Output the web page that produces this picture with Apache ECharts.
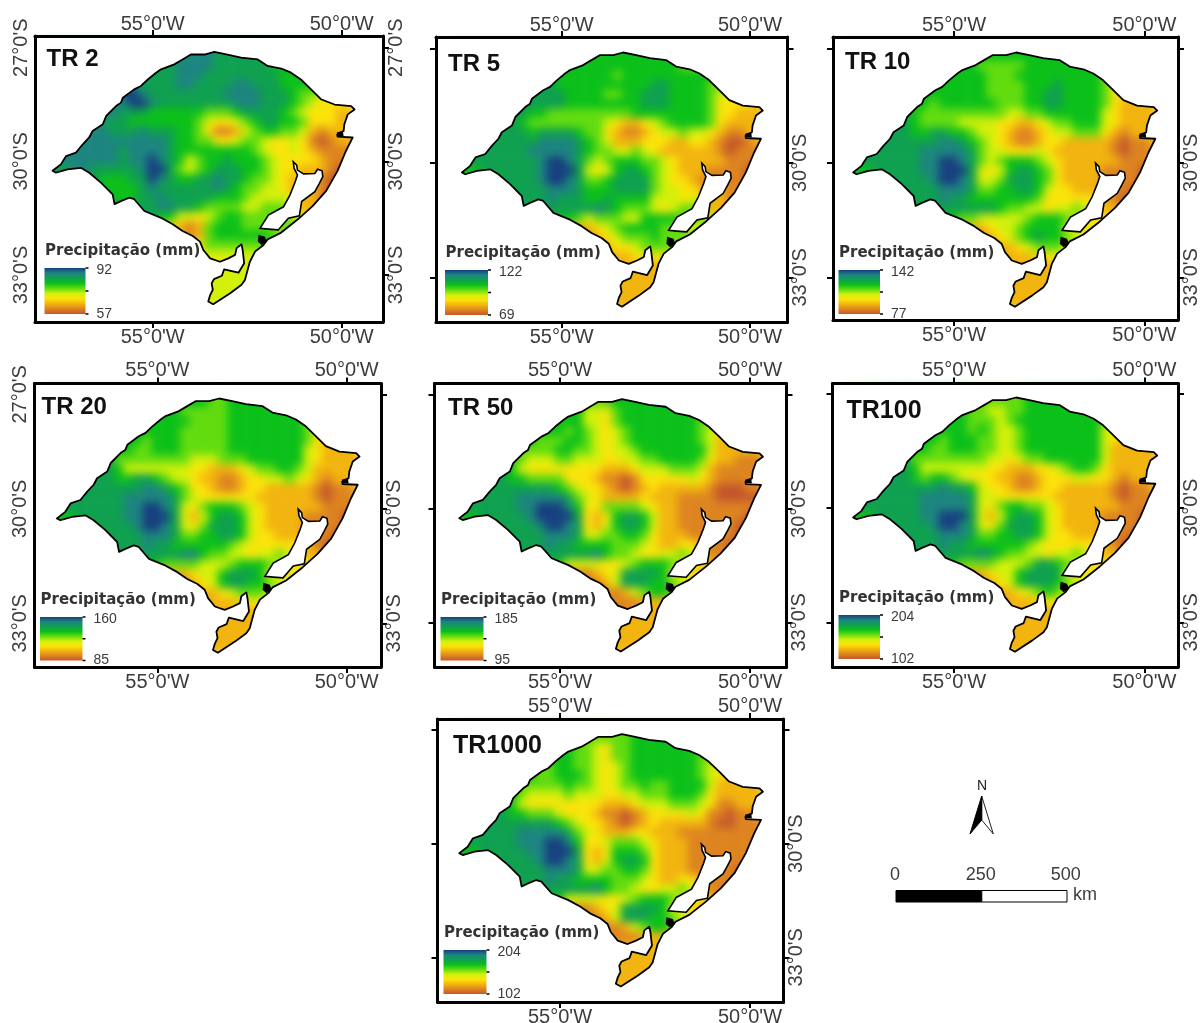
<!DOCTYPE html>
<html><head><meta charset="utf-8">
<script src="https://cdn.jsdelivr.net/npm/echarts@6/dist/echarts.min.js"></script>
<style>html,body{margin:0;padding:0;background:#fff}
#heat,#c{position:absolute;left:0;top:0;width:1200px;height:1023px}
#heat{filter:blur(4px)}</style>
</head><body><div id="heat"></div><div id="c"></div>
<script>
// ---- data ----
const panelNames = ['TR 2','TR 5','TR 10','TR 20','TR 50','TR100','TR1000'];
const legendMax = [92,122,142,160,185,204,204];
const legendMin = [57,69,77,85,95,102,102];
const lonTicks = [-55,-50];
const latTicks = [-27,-30,-33];
const legendTitle = 'Precipitação (mm)';
const scaleStops = [0,250,500];
const cellSize = 0.25, gridWest = -57.65, gridNorth = -27.08;
// precipitation classes 0 (low, brown) .. 9 (high, navy), rows north to south, columns west to east
const tail2 = '2222 2222 2222 2222 2222 2222 2222 2222';
const tr2Rows = [
'7777 7777 7777 7788 8777 7766 6666 6666','7777 7777 7777 7888 8777 7776 6666 6666','7777 7777 7777 7888 7777 7777 6666 6666',
'7777 7777 8777 7887 7778 8777 6666 5555','7777 7889 9877 7777 7788 8877 7655 4333','7777 7888 9987 7777 7778 8877 7654 3333',
'7777 7887 7766 6666 5556 7777 6543 3322','7788 8777 6666 6665 4334 5677 6653 3322','7788 8877 7877 7665 3112 4566 5542 1222',
'8888 8888 8888 7665 5334 5543 3431 0122','8888 8887 8888 7666 6666 6543 3432 1111','8888 8887 8898 7645 6676 6654 3333 2111',
'7788 7777 7899 7545 6777 6654 3322 2100','7777 7666 7798 7667 7877 6554 3222 1000','7777 7666 6787 7777 7876 5544 3222 1000',
'7777 7766 6778 7777 7666 5444 4322 1000','7777 7777 7778 8776 5555 4455 5322 1100','7777 7777 7776 6443 4566 5555 5432 2222',
'7777 7777 7765 3212 5666 5555 5544 4444','7777 7777 7655 3212 5666 6665 4444 4444','7777 7777 7655 3323 5555 5555 4444 4444',
'5555 5555 5555 4333 4444 4444 4444 4444','4444 4444 4444 4433 3334 4444 4444 4444','4444 4444 4444 4444 4444 4444 4444 4444',
'4444 4444 4444 4444 4444 4444 4444 4444','4444 4444 4444 4444 4444 4444 4444 4444','4444 4444 4444 4444 4444 4444 4444 4444'];
const tr5Rows = [
'6666 6666 6666 6666 6666 6666 6666 6666','7777 7777 7776 6666 6666 6665 5555 5555','7777 7777 7766 6666 5666 6666 6666 6666',
'7777 7777 7766 6666 6666 7766 6655 4444','7777 7777 7776 6665 5667 7766 6654 3333','7777 7777 7776 6666 6667 7766 6653 3332',
'7777 7776 6555 5555 5566 6666 6653 3222','7777 7765 5555 5554 3223 4566 6653 2222','7777 7776 7777 6553 2112 3445 4432 1122',
'7777 7777 8888 7654 2223 3322 3321 0012','7777 7778 8888 7655 4454 3222 2221 0111','7777 7777 8998 7545 6665 5432 2222 1110',
'6677 7777 8999 7434 6776 5432 2211 1100','6666 7777 8998 7556 7777 5433 2111 1100','7777 7777 7888 7666 7777 5443 3222 1100',
'7777 7777 7877 7667 6666 4443 4322 1100','7777 7777 7777 7787 6555 4345 5522 2211','7777 7777 7766 5455 5446 6665 5543 3333',
'7777 7777 7654 2234 5666 6555 4444 4444','5555 5555 5544 2123 4555 6555 4444 4444','3333 3333 3332 2222 3345 5554 4444 4444',
'2222 2222 2222 2222 2233 3333 3333 3333','2222 2222 2222 2222 2222 2223 3333 3333',tail2,tail2,tail2,tail2];
const tr10Rows = [
'6666 6666 6666 6666 6666 6666 6666 6666','6666 6666 6666 6555 5566 6666 6666 6666','6666 6666 6666 6655 5666 6666 6655 5555',
'6666 6666 6666 6655 5566 6766 6654 3333','7777 7766 6666 6655 5566 7766 6653 3222','7777 7766 5666 6665 5566 7766 6653 2222',
'7777 7665 5555 5555 4455 6666 6643 2222','7777 7765 5554 4443 3223 4556 6643 2222','7777 7766 7766 5443 2112 3445 5532 1222',
'7777 7777 7887 6543 2112 3322 2221 0112','7777 7778 8888 7544 3334 3222 2221 0111','7777 7778 8998 7545 6665 4322 2222 1111',
'6677 7778 8999 7434 6776 5322 2211 1100','6666 7777 8998 7445 7776 5322 2211 1100','7777 7777 7888 7556 6776 4332 2211 1000',
'7777 7777 7877 6666 6665 3333 3321 0000','7777 7777 7777 7776 5544 3445 4322 1100','7777 7777 7665 5444 4456 6654 4333 3222',
'7777 7776 5432 2234 4566 6644 3333 3333','5555 5544 3322 1123 4567 6654 3333 3333','2222 2222 2222 2222 2345 5543 3333 3333',
'2222 2222 2222 2222 2223 3332 2222 2222',tail2,tail2,tail2,tail2,tail2];
const tr20Rows = [
'6666 6666 6666 6666 5566 6666 6666 6666','6666 6666 6666 6555 5566 6666 6666 6666','6666 6666 6666 6655 5566 6666 6655 5555',
'6666 6666 6666 6555 5566 6666 6653 3322','6666 6666 6566 6555 5566 6666 6653 2222','7777 7766 5566 6555 5566 6666 6643 2222',
'7777 7755 5555 5544 4555 6666 6643 2222','7777 7764 4444 4433 2223 4556 6542 2222','7777 7766 7765 4432 2112 3344 5432 1222',
'7777 7777 7887 6533 2112 3322 2221 0112','7777 7778 8888 7543 3333 3222 2221 0111','7777 7778 8998 7435 6665 4322 2222 1111',
'6677 7778 8999 7424 6776 4322 2211 1100','6666 7777 8998 7435 7776 4322 2211 1100','7777 7777 7888 7556 6776 4332 2211 1000',
'7777 7777 7877 6666 6654 3333 3321 0000','7777 7777 7777 7886 5544 3445 4322 1100','7777 7777 7665 5554 4456 6654 4333 3222',
'7777 7775 4322 2234 4677 7644 3333 3333','5555 5544 3222 1123 4677 6654 3333 3333','2222 2222 2222 1122 2345 5543 3333 3333',
'2222 2222 2222 1111 2223 3332 2222 2222',tail2,tail2,tail2,tail2,tail2];
const tr50Rows = [
'6666 6666 6666 6555 6666 6666 6666 6666','6666 6666 6666 6443 5666 6666 6666 6666','5566 6666 6666 6443 5666 6666 6555 5555',
'6666 6666 6665 6543 4566 6666 6543 2222','6666 6666 5556 6543 4566 6666 6542 2222','6666 6655 5566 5543 4456 6666 6642 2222',
'7777 7654 4455 4443 3445 5666 6532 2111','7777 7643 3333 3332 2234 4455 5421 1111','7777 7665 5553 3321 1013 3333 4321 1111',
'7777 7777 7765 4332 1012 3222 2210 0011','7777 7788 8887 5432 2223 2221 1110 0000','7777 7788 9998 6335 5554 3221 1111 1111',
'6677 7778 9999 7323 6776 4221 1111 1100','6666 7777 8998 7324 6776 4221 1111 1000','7777 7777 7888 7445 5665 3222 1111 1000',
'7777 7777 7877 6666 5554 3223 3211 0000','7777 7777 7777 7786 5543 3445 4311 1000','7777 7777 7664 4443 3456 6653 3322 2111',
'7777 7775 3221 1123 4777 7644 3222 2222','5555 5543 2111 1112 4777 6654 3222 2222','1111 1111 1111 1111 1245 6653 2222 2222',
'1111 1111 1111 1111 1112 2222 2222 2222','1111 1111 1111 1111 1122 2222 2222 2222',tail2,tail2,tail2,tail2];
const tr100Rows = [
'5566 6666 6666 5555 5566 6666 6666 6666','5566 6666 6666 5544 5566 6666 6666 6666','6666 6666 6666 5554 5666 6666 6655 5555',
'6666 6666 6666 5654 4566 6666 6643 3322','6666 6666 6566 6554 4566 6666 6643 2222','6666 6666 5566 6554 4566 6666 6642 2222',
'7777 7755 5555 5544 3455 6666 6642 2222','7777 7764 4444 4433 2223 3456 6532 2222','7777 7765 6654 3332 2112 3334 4332 1222',
'7777 7777 7877 6433 2112 3322 2221 0112','7777 7778 8888 7443 3333 3222 2221 0111','7777 7778 8888 7435 6655 4322 2222 1111',
'6677 7778 8999 7424 6776 4322 2211 1100','6666 7777 8998 7435 7776 4322 2211 1100','7777 7777 7888 7556 6776 4332 2211 1000',
'7777 7777 7877 6666 6654 3333 3321 0000','7777 7777 7777 7876 5544 3445 4322 1100','7777 7777 7665 5554 4457 7654 4333 3222',
'7777 7775 4322 2234 4677 7744 3333 3333','5555 5544 3222 1123 4677 7654 3333 3333','2222 2222 2222 1122 2345 6543 3333 3333',
'2222 2222 2222 1111 2223 3332 2222 2222',tail2,tail2,tail2,tail2,tail2];
const tr1000Rows = [
'5566 6666 6666 5555 5566 6666 6666 6666','6666 6666 6666 5543 5566 6666 6666 6666','6666 6666 6666 5543 5566 6666 6555 5555',
'6666 6666 5566 5543 4566 6666 6543 2222','6666 6666 5566 6543 4566 6666 6543 2222','6666 6655 5556 5543 4556 5566 6642 2222',
'7777 7654 4445 4443 3445 5566 6532 2222','7777 7643 3333 3332 2234 4455 5431 1222','7777 7665 5543 3321 1012 3333 4311 0112',
'7777 7777 7765 4332 1012 3222 2210 0111','7777 7788 8887 5432 2233 2221 1111 1111','7777 7788 8998 6334 5554 3222 1111 1111',
'6677 7778 8999 7323 6665 3222 1111 1111','6666 7777 8998 7324 6776 3222 1111 1111','7777 7777 7888 7445 5665 3222 1111 1000',
'7777 7777 7877 6666 5554 3223 3211 1000','7777 7777 7777 7786 5543 3445 4311 1000','7777 7777 7664 4443 3456 6653 3322 2111',
'7777 7775 3221 1123 4777 7644 3222 2222','5555 5543 2111 1112 4777 6654 3222 2222','1111 1111 1111 1111 1245 6653 2222 2222',
'1111 1111 1111 1111 1112 2222 2222 2222',tail2,tail2,tail2,tail2,tail2];
const panelRows = [tr2Rows,tr5Rows,tr10Rows,tr20Rows,tr50Rows,tr100Rows,tr1000Rows];
// state outline
const outlineLon = [-57.65,-57.43,-57.29,-57.03,-56.85,-56.68,-56.59,-56.32,-56.23,-55.97,-55.84,-55.79,-55.49,-55.31,-55.13,-54.91,-54.78,-54.43,-54.21,-53.99,-53.63,-53.37,-53.02,-52.66,-52.22,-51.96,-51.60,-51.34,-51.08,-50.81,-50.55,-50.19,-49.75,-49.66,-49.84,-49.93,-49.95,-50.12,-50.11,-49.71,-49.89,-50.11,-50.41,-50.77,-51.16,-51.60,-51.96,-52.07,-52.29,-52.43,-52.56,-52.65,-52.95,-53.40,-53.53,-53.48,-53.41,-53.44,-53.38,-53.17,-53.11,-52.73,-52.58,-52.62,-52.65,-52.78,-52.82,-53.00,-53.22,-53.48,-53.66,-53.75,-53.94,-54.21,-54.47,-54.78,-55.22,-55.49,-55.62,-55.84,-56.01,-56.06,-56.37,-56.68,-56.90,-57.25,-57.56];
const outlineLat = [-30.25,-30.08,-29.86,-29.77,-29.55,-29.37,-29.20,-29.02,-28.80,-28.54,-28.45,-28.32,-28.10,-28.01,-27.84,-27.66,-27.57,-27.44,-27.31,-27.18,-27.18,-27.11,-27.18,-27.26,-27.31,-27.48,-27.55,-27.66,-27.84,-28.10,-28.36,-28.50,-28.54,-28.63,-28.76,-29.02,-29.20,-29.29,-29.35,-29.37,-29.73,-30.25,-30.78,-31.18,-31.53,-31.88,-32.06,-32.21,-32.38,-32.65,-33.13,-33.26,-33.48,-33.77,-33.70,-33.53,-33.39,-33.22,-33.11,-33.02,-32.85,-32.94,-32.69,-32.34,-32.19,-32.29,-32.47,-32.56,-32.65,-32.56,-32.34,-32.12,-31.97,-31.84,-31.66,-31.49,-31.31,-31.00,-30.96,-31.05,-31.13,-30.87,-30.56,-30.30,-30.17,-30.21,-30.30];
// Lagoa dos Patos
const lagoonLon = [-51.28,-51.19,-51.17,-51.01,-50.71,-50.64,-50.52,-50.50,-50.59,-50.71,-51.06,-51.12,-51.41,-51.68,-51.94,-52.16,-51.94,-51.54,-51.37,-51.23,-51.17,-51.26];
const lagoonLat = [-30.01,-30.10,-30.23,-30.33,-30.32,-30.21,-30.25,-30.40,-30.58,-30.80,-31.06,-31.44,-31.50,-31.81,-31.79,-31.77,-31.42,-31.20,-30.89,-30.54,-30.36,-30.18];
// solid dark patches on the coast
const patchSouthLon = [-52.20,-52.03,-51.98,-52.12,-52.22];
const patchSouthLat = [-31.94,-31.99,-32.12,-32.21,-32.12];
const patchEastLon = [-50.13,-49.97,-49.95,-50.11];
const patchEastLat = [-29.24,-29.19,-29.33,-29.33];
const rampColors = ['#c4572b','#dd8420','#f2b40f','#fbe30a','#d2f00a','#62dc0f','#0cc01a','#0fa050','#1d8580','#17407f'];

// ---- layout (pixels) ----
const frames = [[35,36,383,322],[436,37,787.5,322],[833,37,1178,320],[34.5,383.5,381,667],[434.5,383.5,786.5,667],[832.5,383.5,1178,667],[437.5,719,783.5,1002]];
const lonPx = [[152.7,341.7],[561.7,750],[954,1144.3],[157.3,346.7],[560,750],[954,1144.3],[560,750]];
const latPx = [[47.7,275],[48.3,277.3],[48.3,277.3],[394.3,623.3],[395,622.3],[393.3,622.3],[730,957.3]];
const titlePos = [[46.5,60],[448,65],[845,63],[41.5,408],[448,409],[846.5,412],[453,747]];
const titleSize = [24,24,24,24,24,25,25];
const topMargin = [2,2,2,3.5,3.5,3.5,3];
const legendBox = [[44.5,268,41,46],[445,270,43,45],[838.5,270,41.5,44],[40,617,42.5,43.5],[440.5,617,43,43.5],[838.5,615,41.5,44],[443.5,950,43,44]];
const leftLabels = [true,false,false,true,false,false,false];
const rightLat = [[-27,-30,-33],[-30,-33],[-30,-33],[-30,-33],[-30,-33],[-30,-33],[-30,-33]];

const labelColor = '#3c3c3c', sans = '"Liberation Sans"';
const levelsOf = rows => rows.map(r => r.replace(/ /g,''));
const lonFmt = v => Math.abs(v) + "°0'W";
const latFmt = v => Math.abs(v) + "°0'S";
const zipPts = (lon,lat,api) => lon.map((x,i)=>api.coord([x,lat[i]]));

const grids=[],xAxes=[],yAxes=[],series=[],graphic=[];
const heatGrids=[],heatX=[],heatY=[],heatSeries=[];
panelNames.forEach((name,p)=>{
  const [L,T,R,B]=frames[p];
  const g={left:L,top:T,width:R-L,height:B-T,outerBoundsMode:'none'};
  grids.push(g);heatGrids.push({...g});
  const pxPerLon=(lonPx[p][1]-lonPx[p][0])/5, pxPerLat=(latPx[p][1]-latPx[p][0])/6;
  const lonMin=-55+(L-lonPx[p][0])/pxPerLon, lonMax=-55+(R-lonPx[p][0])/pxPerLon;
  const latMax=-27-(T-latPx[p][0])/pxPerLat, latMin=-27-(B-latPx[p][0])/pxPerLat;
  heatX.push({gridIndex:p,type:'value',show:false,min:lonMin,max:lonMax});
  heatY.push({gridIndex:p,type:'value',show:false,min:latMin,max:latMax});
  const line={onZero:false,lineStyle:{color:'#000',width:3}};
  const tick=(vals,show=true)=>({show,customValues:vals,length:6,lineStyle:{color:'#000',width:2}});
  const xBase=pos=>({gridIndex:p,type:'value',position:pos,min:lonMin,max:lonMax,z:5,axisLine:line,splitLine:{show:false},axisTick:tick(lonTicks),
    axisLabel:{customValues:lonTicks,formatter:lonFmt,color:labelColor,fontFamily:sans,fontSize:20,margin:pos==='top'?topMargin[p]:5,hideOverlap:false}});
  xAxes.push(xBase('bottom'),xBase('top'));
  yAxes.push({gridIndex:p,type:'value',position:'left',min:latMin,max:latMax,z:5,axisLine:line,splitLine:{show:false},axisTick:tick(latTicks,!leftLabels[p]),
    axisLabel:{show:leftLabels[p],customValues:latTicks,formatter:latFmt,rotate:90,color:labelColor,fontFamily:sans,fontSize:20,margin:4,hideOverlap:false}},
   {gridIndex:p,type:'value',position:'right',min:latMin,max:latMax,z:5,axisLine:line,splitLine:{show:false},axisTick:tick(latTicks),
    axisLabel:{customValues:rightLat[p],formatter:latFmt,rotate:90,color:labelColor,fontFamily:sans,fontSize:20,margin:3,hideOverlap:false}});
  const cells=[];
  levelsOf(panelRows[p]).forEach((row,j)=>{[...row].forEach((ch,i)=>{cells.push([gridWest+i*cellSize,gridNorth-j*cellSize,+ch]);});});
  // precipitation cells (blurred layer underneath); border cells reach one cell further so the blur stays solid at the coast
  heatSeries.push({xAxisIndex:p,yAxisIndex:p,silent:true,animation:false,progressive:0,type:'custom',data:cells,renderItem:(params,api)=>{
    const lon=api.value(0),lat=api.value(1);
    const a=api.coord([lon===gridWest?lon-cellSize:lon,lat===gridNorth?lat+cellSize:lat]),b=api.coord([lon+cellSize,lat-cellSize]);
    return {type:'rect',shape:{x:a[0],y:a[1],width:b[0]-a[0]+.6,height:b[1]-a[1]+.6},style:{fill:rampColors[api.value(2)]}};
  }});
  // white mask outside the state, lagoon, coast patches, outline
  series.push({xAxisIndex:2*p,yAxisIndex:2*p,silent:true,animation:false,type:'custom',data:[[0,0]],renderItem:(params,api)=>{
    const s=params.coordSys,o=zipPts(outlineLon,outlineLat,api);
    const pts=[[s.x,s.y],[s.x,s.y+s.height],[s.x+s.width,s.y+s.height],[s.x+s.width,s.y],[s.x,s.y],...o,o[0],[s.x,s.y]];
    return {type:'group',children:[
      {type:'polygon',shape:{points:pts},style:{fill:'#fff',stroke:null}},
      {type:'polygon',shape:{points:zipPts(lagoonLon,lagoonLat,api)},style:{fill:'#fff',stroke:'#000',lineWidth:1.6}},
      {type:'polygon',shape:{points:zipPts(patchSouthLon,patchSouthLat,api)},style:{fill:'#000'}},
      {type:'polygon',shape:{points:zipPts(patchEastLon,patchEastLat,api)},style:{fill:'#000'}},
      {type:'polygon',shape:{points:o},style:{fill:'none',stroke:'#000',lineWidth:1.8,lineJoin:'round'}}
    ]};
  }});
  // panel title and legend
  graphic.push({type:'text',z:50,left:titlePos[p][0],top:titlePos[p][1]-13,style:{text:name,font:'bold '+titleSize[p]+'px '+sans,fill:'#111'}});
  const [lx,ly,lw,lh]=legendBox[p];
  graphic.push({type:'text',z:50,left:lx+.5,top:ly-24,style:{text:legendTitle,font:'bold 15px "DejaVu Sans"',fill:'#333'}});
  graphic.push({type:'rect',z:50,shape:{x:lx,y:ly,width:lw,height:lh},style:{fill:{type:'linear',x:0,y:0,x2:0,y2:1,
    colorStops:[...rampColors].reverse().map((c,i)=>({offset:i/9,color:c}))}}});
  [0,.5,1].forEach(f=>graphic.push({type:'rect',z:50,shape:{x:lx+lw,y:ly+f*lh-.75,width:3,height:1.5},style:{fill:'#000'}}));
  graphic.push({type:'text',z:50,left:lx+lw+11,top:ly-5,style:{text:String(legendMax[p]),font:'14px '+sans,fill:labelColor}});
  graphic.push({type:'text',z:50,left:lx+lw+11,top:ly+lh-7,style:{text:String(legendMin[p]),font:'14px '+sans,fill:labelColor}});
});
// north arrow
graphic.push({type:'text',z:50,left:977,top:779,style:{text:'N',font:'14px '+sans,fill:'#222'}});
graphic.push({type:'polygon',z:50,shape:{points:[[981.7,796],[993.3,834],[981.7,820]]},style:{fill:'#fff',stroke:'#222',lineWidth:1}});
graphic.push({type:'polygon',z:50,shape:{points:[[981.7,796],[970,834],[981.7,820]]},style:{fill:'#000',stroke:'#000',lineWidth:1}});
// scale bar
const scaleX=[895,980.8,1065.7];
scaleStops.forEach((v,i)=>graphic.push({type:'text',z:50,x:scaleX[i],y:875,style:{text:String(v),font:'18px '+sans,fill:labelColor,align:'center',verticalAlign:'middle'}}));
graphic.push({type:'rect',z:50,shape:{x:896,y:890.5,width:85.8,height:11.5},style:{fill:'#000',stroke:'#000',lineWidth:1}});
graphic.push({type:'rect',z:50,shape:{x:981.8,y:890.5,width:85.2,height:11.5},style:{fill:'#fff',stroke:'#000',lineWidth:1}});
graphic.push({type:'text',z:50,left:1073,top:886,style:{text:'km',font:'18px '+sans,fill:labelColor}});

const heat=echarts.init(document.getElementById('heat'),null,{renderer:'canvas'});
heat.setOption({animation:false,grid:heatGrids,xAxis:heatX,yAxis:heatY,series:heatSeries});
const chart=echarts.init(document.getElementById('c'),null,{renderer:'canvas'});
chart.setOption({animation:false,backgroundColor:'transparent',grid:grids,xAxis:xAxes,yAxis:yAxes,series,graphic:{elements:graphic}});
</script></body></html>
